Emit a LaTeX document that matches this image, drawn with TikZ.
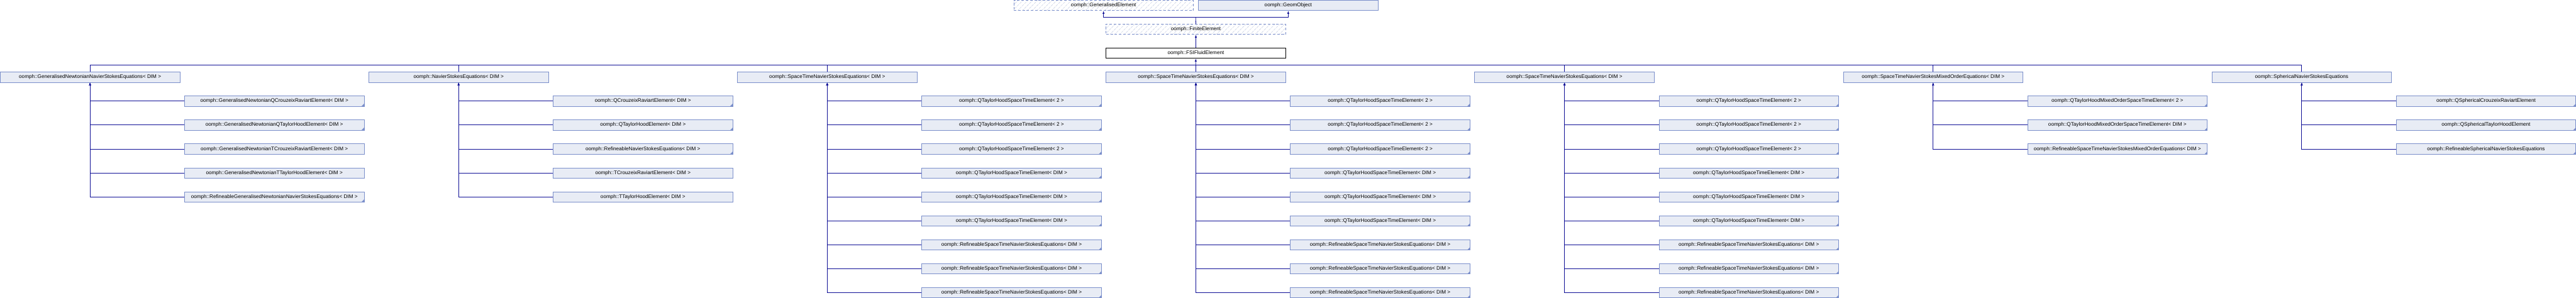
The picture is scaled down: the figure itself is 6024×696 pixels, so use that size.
\documentclass[tikz,border=0pt]{standalone}
\usepackage{fontspec}
\setmainfont{Liberation Sans}
\usetikzlibrary{arrows.meta, patterns.meta}
\definecolor{clsfill}{RGB}{232,236,245}
\definecolor{clsbord}{RGB}{123,143,203}
\definecolor{linkcol}{RGB}{16,16,150}
\definecolor{hatchcol}{RGB}{214,220,234}
\newcommand{\oo}[1]{oomph::#1}

\begin{document}
\begin{tikzpicture}[
		x=1pt, y=1pt,
		>={Latex[length=7pt,width=5pt]},
		cls/.style={draw=clsbord, fill=clsfill, line width=1pt, minimum width=420pt, minimum height=24pt, inner sep=0pt, anchor=north west, font=\fontsize{12}{14}\selectfont},
		clsmore/.style={cls, path picture={\fill[clsbord] (path picture bounding box.south east) -- ++(-6,0) -- ++(6,6) -- cycle;}},
		clsext/.style={cls, dash pattern=on 6pt off 4pt, pattern={Lines[angle=45, distance=8pt, line width=1.2pt]}, pattern color=hatchcol},
		inh/.style={<-, draw=linkcol, line width=1.2pt},
		link/.style={draw=linkcol, line width=1.2pt},
	]
	\useasboundingbox (0,0) rectangle (6024,-696);

	% bases
	\node[clsext] (ge) at (2370, 0) {\oo{GeneralisedElement}};
	\node[cls] (go) at (2802, 0) {\oo{GeomObject}};
	\node[clsext] (fe) at (2586, -56) {\oo{FiniteElement}};
	\node[cls, fill=white, draw=black] (fsi) at (2586, -112) {\oo{FSIFluidElement}};
	\coordinate (j0) at (2796, -40);
	\coordinate (j1) at (2796, -152);

	% equation classes
	\node[cls] (gn) at (0, -168) {\oo{GeneralisedNewtonianNavierStokesEquations< DIM >}};
	\node[cls] (ns) at (862, -168) {\oo{NavierStokesEquations< DIM >}};
	\node[cls] (sa) at (1724, -168) {\oo{SpaceTimeNavierStokesEquations< DIM >}};
	\node[cls] (sb) at (2586, -168) {\oo{SpaceTimeNavierStokesEquations< DIM >}};
	\node[cls] (sc) at (3448, -168) {\oo{SpaceTimeNavierStokesEquations< DIM >}};
	\node[cls] (mo) at (4310, -168) {\oo{SpaceTimeNavierStokesMixedOrderEquations< DIM >}};
	\node[cls] (sp) at (5172, -168) {\oo{SphericalNavierStokesEquations}};

	% generalised newtonian
	\node[clsmore] (gn1) at (431, -224) {\oo{GeneralisedNewtonianQCrouzeixRaviartElement< DIM >}};
	\node[clsmore] (gn2) at (431, -280) {\oo{GeneralisedNewtonianQTaylorHoodElement< DIM >}};
	\node[cls] (gn3) at (431, -336) {\oo{GeneralisedNewtonianTCrouzeixRaviartElement< DIM >}};
	\node[cls] (gn4) at (431, -392) {\oo{GeneralisedNewtonianTTaylorHoodElement< DIM >}};
	\node[clsmore] (gn5) at (431, -448) {\oo{RefineableGeneralisedNewtonianNavierStokesEquations< DIM >}};

	% navier stokes
	\node[clsmore] (ns1) at (1293, -224) {\oo{QCrouzeixRaviartElement< DIM >}};
	\node[clsmore] (ns2) at (1293, -280) {\oo{QTaylorHoodElement< DIM >}};
	\node[clsmore] (ns3) at (1293, -336) {\oo{RefineableNavierStokesEquations< DIM >}};
	\node[cls] (ns4) at (1293, -392) {\oo{TCrouzeixRaviartElement< DIM >}};
	\node[cls] (ns5) at (1293, -448) {\oo{TTaylorHoodElement< DIM >}};

	% space-time, three times
	\node[clsmore] (sa1) at (2155, -224) {\oo{QTaylorHoodSpaceTimeElement< 2 >}};
	\node[clsmore] (sa2) at (2155, -280) {\oo{QTaylorHoodSpaceTimeElement< 2 >}};
	\node[clsmore] (sa3) at (2155, -336) {\oo{QTaylorHoodSpaceTimeElement< 2 >}};
	\node[clsmore] (sa4) at (2155, -392) {\oo{QTaylorHoodSpaceTimeElement< DIM >}};
	\node[clsmore] (sa5) at (2155, -448) {\oo{QTaylorHoodSpaceTimeElement< DIM >}};
	\node[clsmore] (sa6) at (2155, -504) {\oo{QTaylorHoodSpaceTimeElement< DIM >}};
	\node[clsmore] (sa7) at (2155, -560) {\oo{RefineableSpaceTimeNavierStokesEquations< DIM >}};
	\node[clsmore] (sa8) at (2155, -616) {\oo{RefineableSpaceTimeNavierStokesEquations< DIM >}};
	\node[clsmore] (sa9) at (2155, -672) {\oo{RefineableSpaceTimeNavierStokesEquations< DIM >}};

	\node[clsmore] (sb1) at (3017, -224) {\oo{QTaylorHoodSpaceTimeElement< 2 >}};
	\node[clsmore] (sb2) at (3017, -280) {\oo{QTaylorHoodSpaceTimeElement< 2 >}};
	\node[clsmore] (sb3) at (3017, -336) {\oo{QTaylorHoodSpaceTimeElement< 2 >}};
	\node[clsmore] (sb4) at (3017, -392) {\oo{QTaylorHoodSpaceTimeElement< DIM >}};
	\node[clsmore] (sb5) at (3017, -448) {\oo{QTaylorHoodSpaceTimeElement< DIM >}};
	\node[clsmore] (sb6) at (3017, -504) {\oo{QTaylorHoodSpaceTimeElement< DIM >}};
	\node[clsmore] (sb7) at (3017, -560) {\oo{RefineableSpaceTimeNavierStokesEquations< DIM >}};
	\node[clsmore] (sb8) at (3017, -616) {\oo{RefineableSpaceTimeNavierStokesEquations< DIM >}};
	\node[clsmore] (sb9) at (3017, -672) {\oo{RefineableSpaceTimeNavierStokesEquations< DIM >}};

	\node[clsmore] (sc1) at (3879, -224) {\oo{QTaylorHoodSpaceTimeElement< 2 >}};
	\node[clsmore] (sc2) at (3879, -280) {\oo{QTaylorHoodSpaceTimeElement< 2 >}};
	\node[clsmore] (sc3) at (3879, -336) {\oo{QTaylorHoodSpaceTimeElement< 2 >}};
	\node[clsmore] (sc4) at (3879, -392) {\oo{QTaylorHoodSpaceTimeElement< DIM >}};
	\node[clsmore] (sc5) at (3879, -448) {\oo{QTaylorHoodSpaceTimeElement< DIM >}};
	\node[clsmore] (sc6) at (3879, -504) {\oo{QTaylorHoodSpaceTimeElement< DIM >}};
	\node[clsmore] (sc7) at (3879, -560) {\oo{RefineableSpaceTimeNavierStokesEquations< DIM >}};
	\node[clsmore] (sc8) at (3879, -616) {\oo{RefineableSpaceTimeNavierStokesEquations< DIM >}};
	\node[clsmore] (sc9) at (3879, -672) {\oo{RefineableSpaceTimeNavierStokesEquations< DIM >}};

	% mixed order
	\node[clsmore] (mo1) at (4741, -224) {\oo{QTaylorHoodMixedOrderSpaceTimeElement< 2 >}};
	\node[clsmore] (mo2) at (4741, -280) {\oo{QTaylorHoodMixedOrderSpaceTimeElement< DIM >}};
	\node[clsmore] (mo3) at (4741, -336) {\oo{RefineableSpaceTimeNavierStokesMixedOrderEquations< DIM >}};

	% spherical
	\node[clsmore] (sp1) at (5603, -224) {\oo{QSphericalCrouzeixRaviartElement}};
	\node[clsmore] (sp2) at (5603, -280) {\oo{QSphericalTaylorHoodElement}};
	\node[clsmore] (sp3) at (5603, -336) {\oo{RefineableSphericalNavierStokesEquations}};

	\draw[inh] (ge.south) |- (j0);
	\draw[inh] (go.south) |- (j0);
	\draw[link] (j0) -- (fe.north);
	\draw[inh] (fe.south) -- (fsi.north);
	\draw[inh] (fsi.south) -- (j1);
	\foreach \p in {gn, ns, sa, sb, sc, mo, sp}
		\draw[link] (j1) -| (\p.north);

	\foreach \i in {1,...,5} {
		\draw[inh] (gn.south) |- (gn\i.west);
		\draw[inh] (ns.south) |- (ns\i.west);
	}
	\foreach \i in {1,...,9} {
		\draw[inh] (sa.south) |- (sa\i.west);
		\draw[inh] (sb.south) |- (sb\i.west);
		\draw[inh] (sc.south) |- (sc\i.west);
	}
	\foreach \i in {1,...,3} {
		\draw[inh] (mo.south) |- (mo\i.west);
		\draw[inh] (sp.south) |- (sp\i.west);
	}
\end{tikzpicture}
\end{document}
